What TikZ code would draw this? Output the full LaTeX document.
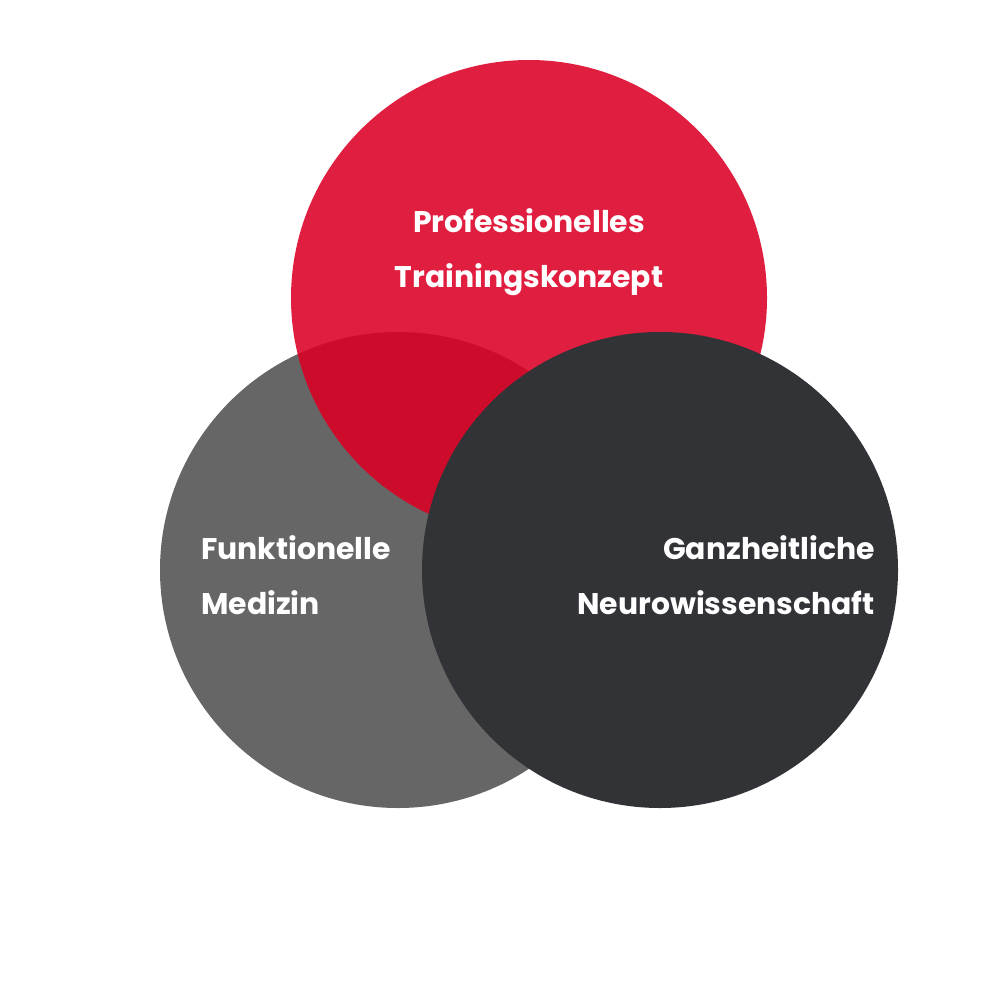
\documentclass[tikz,border=0pt]{standalone}
\usepackage{fontspec}
\setmainfont{Poppins}
\definecolor{trainred}{RGB}{220,0,37}
\definecolor{medgray}{RGB}{102,102,102}
\definecolor{neurodark}{RGB}{49,51,55}

\begin{document}
\begin{tikzpicture}[x=0.02cm, y=-0.02cm,
    lbl/.style={text=white, font=\fontsize{17}{31}\selectfont\bfseries},
]
    \useasboundingbox (0,0) rectangle (1000,1000);
    \fill[medgray] (398,570) circle (238);
    \fill[trainred, fill opacity=0.88] (529,298) circle (238);
    \fill[neurodark] (660,570) circle (238);

    \node[lbl, align=center] (train) at (529,252) {Professionelles\\Trainingskonzept};
    \node[lbl, align=left, anchor=west] (med) at (195,575) {Funktionelle\\Medizin};
    \node[lbl, align=right, anchor=east] (neuro) at (881,575) {Ganzheitliche\\Neurowissenschaft};
\end{tikzpicture}
\end{document}
